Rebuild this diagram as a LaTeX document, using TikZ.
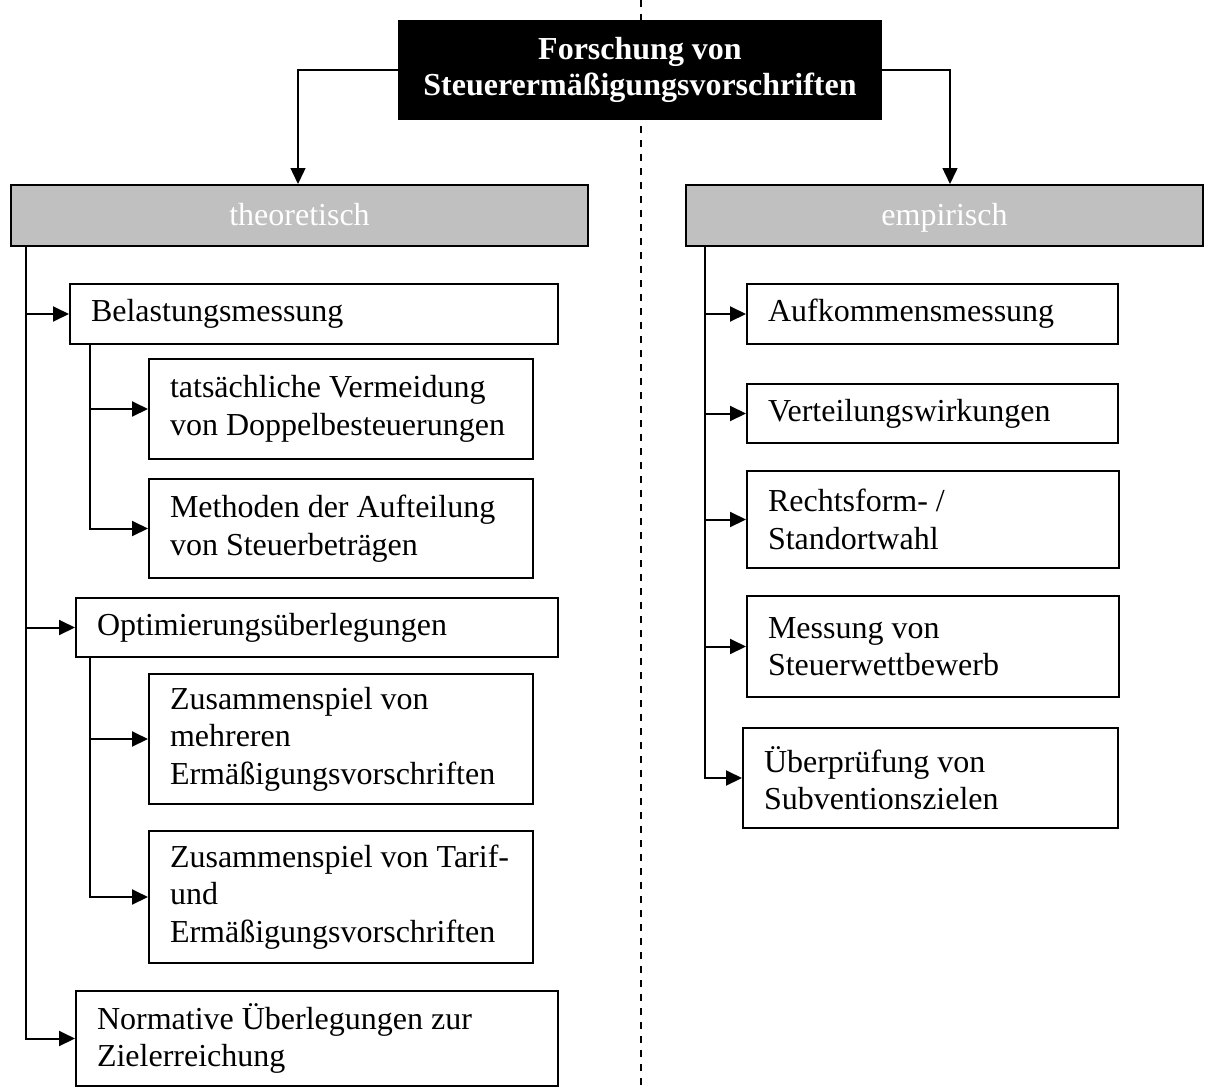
\documentclass[tikz,border=0pt]{standalone}
\usepackage{fontspec}
\setmainfont{Liberation Serif}
\usetikzlibrary{arrows.meta}
\definecolor{headgray}{HTML}{C0C0C0}
% one unbreakable line with the font's own interword space
\newcommand\oneline[1]{\mbox{\spaceskip=0pt\relax\xspaceskip=0pt\relax#1}}
\begin{document}
\begin{tikzpicture}[x=1pt,y=-1pt,
  txt/.style={font=\fontsize{32}{37.5}\selectfont},
  stepbox/.style={txt,draw=black,line width=2pt,fill=white,anchor=north west,
    inner xsep=21pt,inner ysep=0pt,align=left},
  headbox/.style={txt,draw=black,line width=2pt,fill=headgray,text=white,
    anchor=north west,inner sep=0pt,align=center,text height=26pt,text depth=7pt},
  conn/.style={line width=2pt,-{Triangle[length=16pt,width=15pt]}},
  topconn/.style={line width=1.5pt,-{Triangle[length=16pt,width=15pt]}}
]
% canvas
\fill[white] (0,0) rectangle (1222,1089);
\useasboundingbox (0,0) rectangle (1222,1089);

% dividing line between the two branches
\coordinate (divtop) at (641,0);
\coordinate (divbot) at (641,1089);
\draw[line width=2pt,dash pattern=on 7pt off 7pt] (divtop) -- (divbot);

% root
\node[fill=black,text=white,inner sep=0pt,minimum width=484pt,minimum height=100pt,
  align=center,font=\fontsize{32}{36}\selectfont\bfseries] (root) at (640,70)
  {\oneline{Forschung von}\\\oneline{Steuerermäßigungsvorschriften}};

% branch headers
\node[headbox,minimum width=577pt,minimum height=61pt] (theo) at (10,184) {theoretisch};
\node[headbox,minimum width=517pt,minimum height=61pt] (emp) at (685,184) {empirisch};

% left branch
\node[stepbox,minimum width=488pt,minimum height=60pt,text width=446pt] (bel) at (69,283)
  {\oneline{Belastungsmessung}};
\node[stepbox,minimum width=384pt,minimum height=100pt,text width=342pt] (tat) at (148,358)
  {\oneline{tatsächliche Vermeidung}\\\oneline{von Doppelbesteuerungen}};
\node[stepbox,minimum width=384pt,minimum height=99pt,text width=342pt] (met) at (148,478)
  {\oneline{Methoden der Aufteilung}\\\oneline{von Steuerbeträgen}};
\node[stepbox,minimum width=482pt,minimum height=59pt,text width=440pt] (opt) at (75,597)
  {\oneline{Optimierungsüberlegungen}};
\node[stepbox,minimum width=384pt,minimum height=130pt,text width=342pt] (zsa) at (148,673)
  {\oneline{Zusammenspiel von}\\\oneline{mehreren}\\\oneline{Ermäßigungsvorschriften}};
\node[stepbox,minimum width=384pt,minimum height=132pt,text width=342pt] (zsb) at (148,830)
  {\oneline{Zusammenspiel von Tarif-}\\\oneline{und}\\\oneline{Ermäßigungsvorschriften}};
\node[stepbox,minimum width=482pt,minimum height=95pt,text width=440pt] (norm) at (75,990)
  {\oneline{Normative Überlegungen zur}\\\oneline{Zielerreichung}};

% right branch
\node[stepbox,minimum width=371pt,minimum height=60pt,text width=329pt] (auf) at (746,283)
  {\oneline{Aufkommensmessung}};
\node[stepbox,minimum width=371pt,minimum height=59pt,text width=329pt] (ver) at (746,383)
  {\oneline{Verteilungswirkungen}};
\node[stepbox,minimum width=372pt,minimum height=97pt,text width=330pt] (rec) at (746,470)
  {\oneline{Rechtsform- /}\\\oneline{Standortwahl}};
\node[stepbox,minimum width=372pt,minimum height=101pt,text width=330pt] (mes) at (746,595)
  {\oneline{Messung von}\\\oneline{Steuerwettbewerb}};
\node[stepbox,minimum width=375pt,minimum height=100pt,text width=333pt] (ueb) at (742,727)
  {\oneline{Überprüfung von}\\\oneline{Subventionszielen}};

% root to branch headers
\draw[topconn] (root.west) -| ([xshift=-1.5pt]theo.north);
\draw[topconn] (root.east) -| ([xshift=5.5pt]emp.north);

% left trunk
\draw[conn] ([xshift=16pt]theo.south west) |- (bel.west);
\draw[conn] ([xshift=16pt]theo.south west) |- (opt.west);
\draw[conn] ([xshift=16pt]theo.south west) |- (norm.west);
\draw[conn] ([xshift=21pt]bel.south west) |- (tat.west);
\draw[conn] ([xshift=21pt]bel.south west) |- (met.west);
\draw[conn] ([xshift=15pt]opt.south west) |- (zsa.west);
\draw[conn] ([xshift=15pt]opt.south west) |- (zsb.west);

% right trunk
\draw[conn] ([xshift=20pt]emp.south west) |- (auf.west);
\draw[conn] ([xshift=20pt]emp.south west) |- (ver.west);
\draw[conn] ([xshift=20pt]emp.south west) |- (rec.west);
\draw[conn] ([xshift=20pt]emp.south west) |- (mes.west);
\draw[conn] ([xshift=20pt]emp.south west) |- (ueb.west);
\end{tikzpicture}
\end{document}
